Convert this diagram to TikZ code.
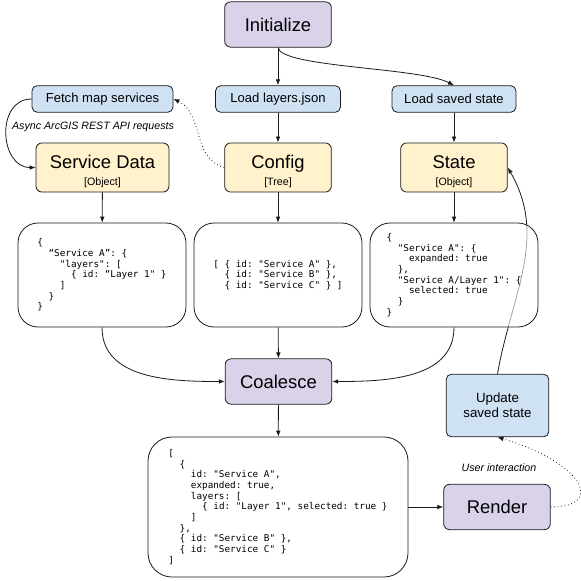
\documentclass[tikz,border=0pt]{standalone}
\usepackage{fontspec}
\setmainfont{Liberation Sans}
\setmonofont{DejaVu Sans Mono}
\usepackage{tikz}
\usetikzlibrary{positioning,arrows.meta,backgrounds}
\definecolor{procFill}{HTML}{D9D2E9}
\definecolor{stepFill}{HTML}{CFE2F3}
\definecolor{dataFill}{HTML}{FFF2CC}
\definecolor{edgeCol}{HTML}{1A1A1A}
\newcommand{\bigfont}{\fontsize{13.8}{15}\selectfont}
\newcommand{\subfont}{\fontsize{8}{9}\selectfont}
\newcommand{\stepfont}{\fontsize{9.8}{11.3}\selectfont}
\newcommand{\codefont}{\fontsize{7}{8}\selectfont\ttfamily}
\newcommand{\ind}[1]{\hspace*{#1\fontcharwd\font`0}}
\newcommand{\topgap}{\rule{0pt}{15.5pt}}

\begin{document}
\begin{tikzpicture}[
  x=0.75pt, y=0.75pt,
  procbox/.style={draw=edgeCol, line width=0.6pt, rounded corners=4.5pt, fill=procFill,
              align=center, minimum width=80pt, minimum height=34pt, font=\bigfont},
  databox/.style={draw=edgeCol, line width=0.6pt, rounded corners=4.5pt, fill=dataFill,
              align=center, minimum width=80pt, minimum height=34pt, font=\bigfont},
  stepbox/.style={draw=edgeCol, line width=0.6pt, rounded corners=4pt, fill=stepFill,
              align=center, minimum height=20pt, font=\stepfont},
  codebox/.style={draw=edgeCol, line width=0.6pt, rounded corners=15pt, fill=white,
              fill opacity=0.6, text opacity=1, align=left,
              minimum width=126pt, minimum height=78pt, font=\codefont},
  flow/.style={-{Latex[length=4.5pt,width=3.5pt]}, line width=0.6pt, draw=edgeCol},
  cue/.style={flow, dotted},
  lbl/.style={font=\fontsize{8}{9}\selectfont\itshape, inner sep=1pt},
]
\useasboundingbox (0,0) rectangle (581,-581);

% ---- Top row ----
\node[procbox]                         (init)       at (278,-24.5) {Initialize};
\node[stepbox, minimum width=105.75pt] (fetch)      at (102.5,-99) {Fetch map services};
\node[stepbox, minimum width=93.75pt]  (loadlayers) at (278,-99)   {Load layers.json};
\node[stepbox, minimum width=93pt]     (loadstate)  at (454,-99)   {Load saved state};

% ---- Data nodes ----
\node[databox, minimum width=99.75pt] (sdata)  at (102.5,-167.5) {\topgap Service Data\\[-2pt]{\subfont [Object]}};
\node[databox]                        (config) at (278,-167.5)   {\topgap Config\\[-2pt]{\subfont [Tree]}};
\node[databox]                        (state)  at (454,-167.5)   {\topgap State\\[-2pt]{\subfont [Object]}};

% ---- Sample contents ----
\node[codebox] (scode) at (102,-275) {\{\\
\ind{2}“Service A”: \{\\
\ind{4}"layers": [\\
\ind{6}\{ id: “Layer 1" \}\\
\ind{4}]\\
\ind{2}\}\\
\}};
\node[codebox] (ccode) at (278,-275) {[ \{ id: "Service A" \},\\
\ind{2}\{ id: "Service B" \},\\
\ind{2}\{ id: "Service C" \} ]};
\node[codebox] (stcode) at (454,-275) {\{\\
\ind{2}"Service A": \{\\
\ind{4}expanded: true\\
\ind{2}\},\\
\ind{2}"Service A/Layer 1": \{\\
\ind{4}selected: true\\
\ind{2}\}\\
\}};

% ---- Lower part ----
\node[procbox] (coalesce) at (278.5,-381.5) {Coalesce};
\node[codebox, minimum width=195pt, minimum height=105pt, rounded corners=18pt] (result) at (278,-507) {[\\
\ind{2}\{\\
\ind{4}id: "Service A",\\
\ind{4}expanded: true,\\
\ind{4}layers: [\\
\ind{6}\{ id: "Layer 1", selected: true \}\\
\ind{4}]\\
\ind{2}\},\\
\ind{2}\{ id: "Service B" \},\\
\ind{2}\{ id: "Service C" \}\\
]};
\node[procbox] (render) at (497,-507) {Render};
\node[stepbox, minimum width=77pt, minimum height=47pt, font=\fontsize{10}{11.3}\selectfont] (update) at (497.5,-405.5) {Update\\saved state};

% ---- Labels ----
\node[lbl] (asynclbl) at (93,-127)  {Async ArcGIS REST API requests};
\node[lbl] (userlbl)  at (499,-468) {User interaction};

% ---- Arrows ----
\draw[flow] (init) -- (loadlayers);
\draw[flow] (init.south) .. controls +(3,-20) and +(-35,18) .. (loadstate.north);
\draw[flow] (loadlayers) -- (config);
\draw[flow] (loadstate) -- (state);
\draw[cue]  (config.west) to[out=165, in=-25] (fetch.east);
\draw[flow] (fetch.west) to[out=180, in=180, looseness=1.35] (sdata.west);
\draw[flow] (sdata) -- (scode);
\draw[flow] (config) -- (ccode);
\draw[flow] (state) -- (stcode);
\draw[flow] (scode.south) to[out=-90, in=180] (coalesce.west);
\draw[flow] (ccode) -- (coalesce);
\draw[flow] (stcode.south) to[out=-90, in=0] (coalesce.east);
\draw[flow] (coalesce) -- (result);
\draw[flow] (result) -- (render);
\draw[cue]  (render.east) .. controls +(55,0) and +(85,-25) .. (update.south);

% ---- Feedback (behind the boxes) ----
\begin{scope}[on background layer]
  \draw[flow] (update.north) to[out=80, in=-60] (state.east);
\end{scope}

\end{tikzpicture}
\end{document}
